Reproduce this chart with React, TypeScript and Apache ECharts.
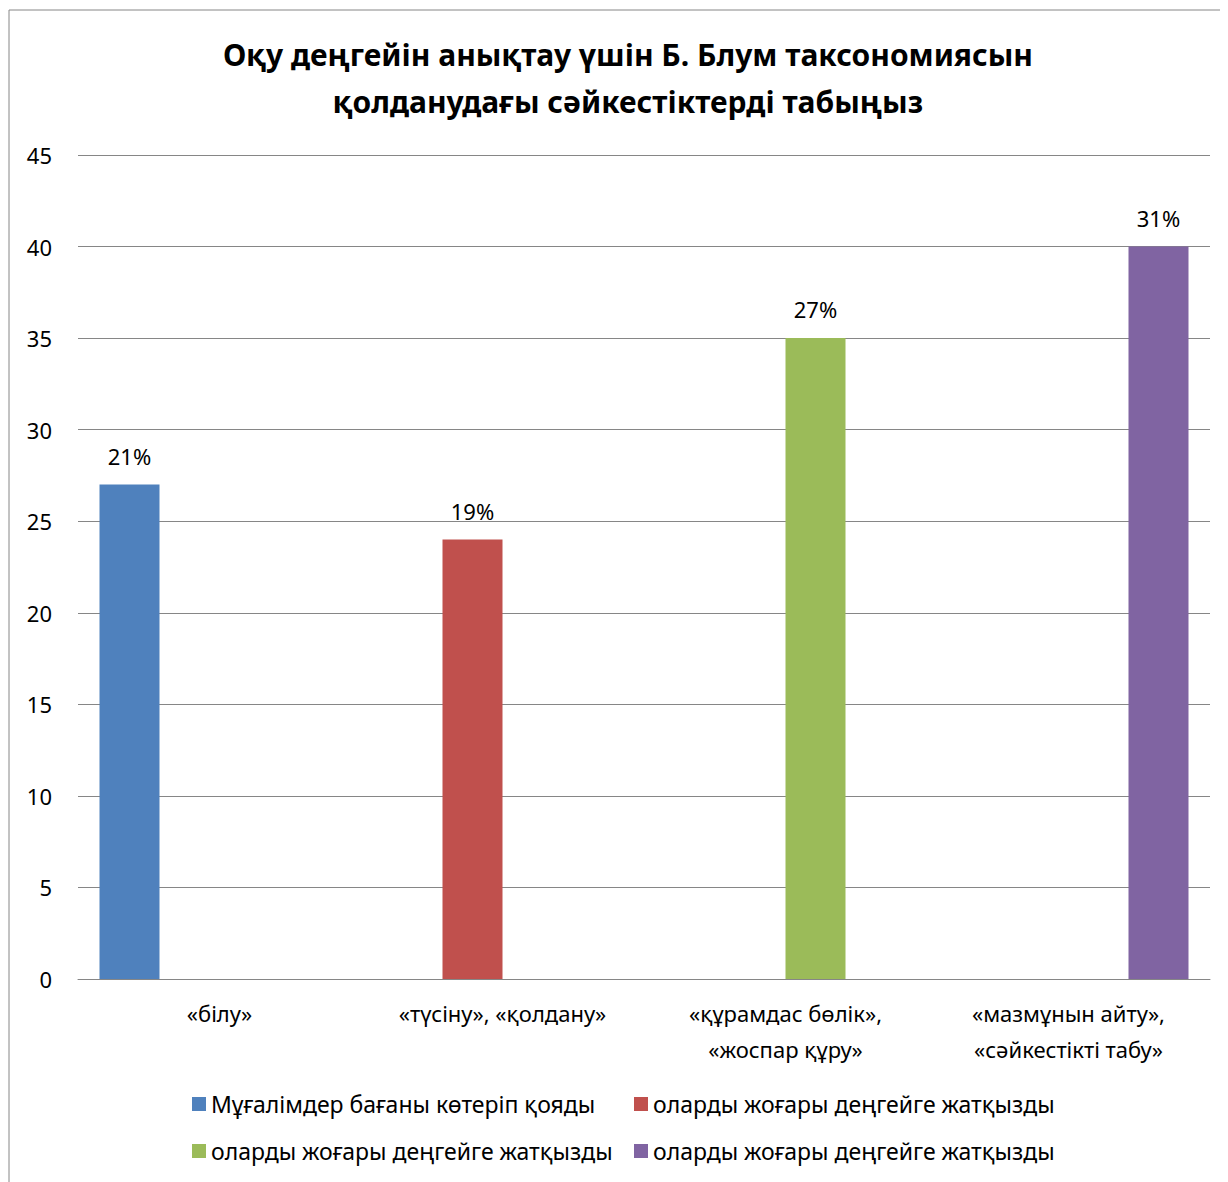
import React, { useEffect, useRef } from "react";
import * as echarts from "echarts";

const titleText = "Оқу деңгейін анықтау үшін Б. Блум таксономиясын\nқолданудағы сәйкестіктерді табыңыз";

const categories = [
  "«білу»",
  "«түсіну», «қолдану»",
  "«құрамдас бөлік»,\n«жоспар құру»",
  "«мазмұнын айту»,\n«сәйкестікті табу»",
];

const seriesLabels = [
  "Мұғалімдер бағаны көтеріп қояды",
  "оларды жоғары деңгейге жатқызды",
  "оларды жоғары деңгейге жатқызды",
  "оларды жоғары деңгейге жатқызды",
];

const seriesValues = [27, 24, 35, 40];
const percentLabels = ["21%", "19%", "27%", "31%"];
const seriesColors = ["#4F81BD", "#C0504D", "#9BBB59", "#8064A2"];

const yMin = 0;
const yMax = 45;
const yStep = 5;

const FONT = "Noto Sans";
const TEXT_SIZE = 22;

export default function App() {
  const ref = useRef<HTMLDivElement>(null);

  useEffect(() => {
    if (!ref.current) return;
    const chart = echarts.init(ref.current, undefined, { renderer: "svg" });

    const ids = seriesLabels.map((_, i) => "s" + i);

    const series = seriesValues.map((v, i) => ({
      name: ids[i],
      type: "bar",
      barWidth: 60,
      barGap: "0%",
      itemStyle: { color: seriesColors[i] },
      label: {
        show: true,
        position: "top",
        distance: 18,
        color: "#000",
        fontFamily: FONT,
        fontSize: TEXT_SIZE,
        lineHeight: TEXT_SIZE,
        formatter: () => percentLabels[i],
      },
      data: categories.map((_, j) => (j === i ? v : "-")),
    }));

    const legendCommon = {
      orient: "vertical",
      icon: "rect",
      itemWidth: 14,
      itemHeight: 14,
      itemGap: 23,
      top: 1079,
      selectedMode: false,
      textStyle: {
        fontFamily: FONT,
        fontSize: 23,
        color: "#000",
        lineHeight: 24,
      },
      formatter: (name: string) => seriesLabels[ids.indexOf(name)],
    };

    chart.setOption({
      animation: false,
      backgroundColor: "#fff",
      title: {
        text: titleText,
        left: 615,
        top: 18,
        textAlign: "center",
        textStyle: {
          fontFamily: FONT,
          fontWeight: "bold",
          fontSize: 30,
          lineHeight: 47,
          color: "#000",
          align: "center",
        },
      },
      legend: [
        { ...legendCommon, left: 179, data: [ids[0], ids[2]] },
        { ...legendCommon, left: 621, data: [ids[1], ids[3]] },
      ],
      grid: { left: 70, right: 18, top: 147, bottom: 203, containLabel: false },
      xAxis: {
        type: "category",
        data: categories,
        axisLine: { show: true, lineStyle: { color: "#868686", width: 1 } },
        axisTick: { show: false },
        axisLabel: {
          color: "#000",
          fontFamily: FONT,
          fontSize: TEXT_SIZE,
          lineHeight: 36,
          margin: 16,
          interval: 0,
        },
      },
      yAxis: {
        type: "value",
        min: yMin,
        max: yMax,
        interval: yStep,
        axisLine: { show: false },
        axisTick: { show: false },
        splitLine: { lineStyle: { color: "#868686", width: 1 } },
        axisLabel: {
          color: "#000",
          fontFamily: FONT,
          fontSize: TEXT_SIZE,
          margin: 26,
        },
      },
      graphic: [
        {
          type: "line",
          shape: { x1: 1, y1: 2, x2: 1, y2: 1174 },
          style: { stroke: "#868686", lineWidth: 1 },
        },
        {
          type: "line",
          shape: { x1: 1, y1: 2, x2: 1220, y2: 2 },
          style: { stroke: "#868686", lineWidth: 1 },
        },
      ],
      series,
    });

    return () => chart.dispose();
  }, []);

  return <div ref={ref} style={{ width: 1220, height: 1174 }} />;
}
